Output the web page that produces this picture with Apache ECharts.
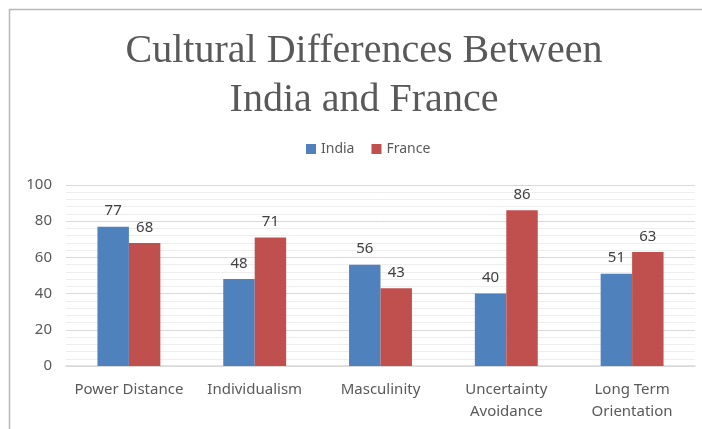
<!DOCTYPE html>
<html><head><meta charset="utf-8">
<script src="https://cdn.jsdelivr.net/npm/echarts@6/dist/echarts.min.js"></script>
<style>html,body{margin:0;padding:0;background:#fff}#c{width:702px;height:429px}</style>
</head><body><div id="c"></div>
<script>
var categories = ['Power Distance', 'Individualism', 'Masculinity', 'Uncertainty\nAvoidance', 'Long Term\nOrientation'];
var india = [77, 48, 56, 40, 51];
var france = [68, 71, 43, 86, 63];
var titleText = 'Cultural Differences Between\nIndia and France';

var chart = echarts.init(document.getElementById('c'));
var labelStyle = {show: true, position: 'top', distance: 8, color: '#404040', fontSize: 15, fontFamily: 'Noto Sans'};
chart.setOption({
  animation: false,
  graphic: [
    {type: 'rect', shape: {x: 9.5, y: 9.5, width: 720, height: 440}, style: {fill: 'none', stroke: '#b8b8b8', lineWidth: 1.5}},
    {type: 'text', x: 364, y: 27, style: {text: titleText, align: 'center', verticalAlign: 'top', font: 'normal 40px "Liberation Serif"', lineHeight: 49, fill: '#595959'}}
  ],
  legend: {top: 137, left: 301, itemWidth: 10, itemHeight: 10, itemGap: 17, icon: 'rect',
    textStyle: {fontFamily: 'Noto Sans', fontSize: 14, color: '#595959'}},
  grid: {left: 66, right: 7, top: 185, bottom: 63, containLabel: false},
  xAxis: {type: 'category', data: categories, axisLine: {show: true, lineStyle: {color: '#d9d9d9', width: 1.5}}, axisTick: {show: false},
    axisLabel: {fontFamily: 'Noto Sans', fontSize: 15, color: '#595959', margin: 13, lineHeight: 22, interval: 0}},
  yAxis: {type: 'value', min: 0, max: 100, interval: 20,
    axisLabel: {fontFamily: 'Noto Sans', fontSize: 15, color: '#595959', margin: 14},
    splitLine: {lineStyle: {color: '#d9d9d9'}},
    minorTick: {show: false, splitNumber: 5},
    minorSplitLine: {show: true, lineStyle: {color: '#eeeeee'}}},
  series: [
    {name: 'India', type: 'bar', data: india, itemStyle: {color: '#4f81bd'}, barGap: '0%', barCategoryGap: '50%', label: labelStyle},
    {name: 'France', type: 'bar', data: france, itemStyle: {color: '#c0504d'}, label: labelStyle}
  ]
});
</script></body></html>
